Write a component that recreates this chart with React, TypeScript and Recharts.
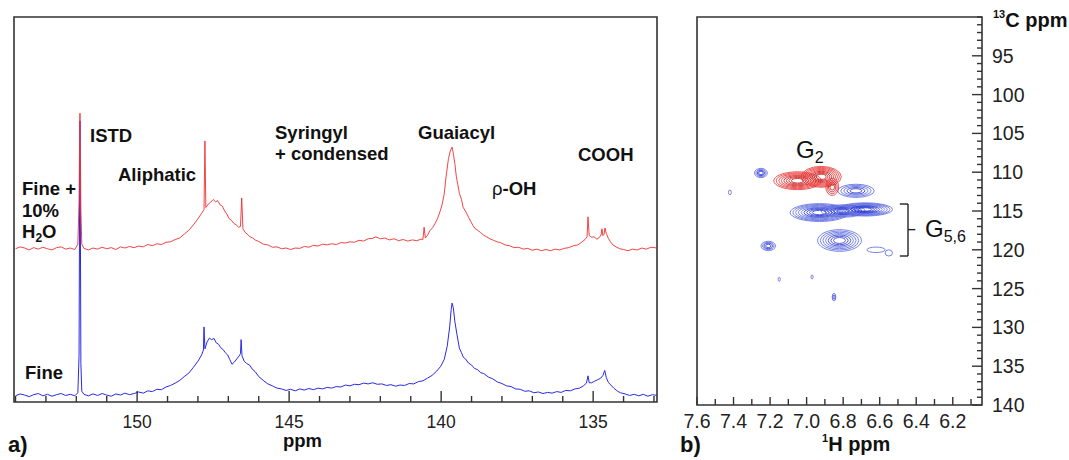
import React from 'react'
import {
  LineChart, Line, ScatterChart, Scatter, XAxis, YAxis, ReferenceArea, ReferenceLine,
} from 'recharts'

const FONT = '"Liberation Sans", Arial, Helvetica, sans-serif'

// a) 31P spectra, [ppm, intensity] (blue = Fine, red = Fine + 10% H2O)
const fineSpectrum: [number, number][] = [
  [154.0, 1.6], [153.85, 2.1], [153.7, 1.8], [153.55, 1.4], [153.4, 1.9], [153.25, 2.2], [153.1, 1.6],
  [152.95, 2.0], [152.8, 1.5], [152.65, 1.9], [152.5, 2.2], [152.35, 1.7], [152.2, 2.0], [152.05, 1.6],
  [151.95, 2.4], [151.91, 12], [151.89, 58], [151.88, 73], [151.87, 55], [151.85, 10], [151.82, 2.8],
  [151.75, 2.0], [151.6, 1.6], [151.45, 2.1], [151.3, 1.7], [151.15, 2.2], [151.0, 1.8], [150.85, 1.5],
  [150.7, 2.1], [150.55, 1.8], [150.4, 2.3], [150.25, 1.9], [150.1, 2.2], [149.95, 2.6], [149.8, 2.3],
  [149.65, 2.9], [149.5, 2.7], [149.35, 3.3], [149.2, 3.2], [149.05, 3.9], [148.9, 4.3], [148.75, 4.9],
  [148.6, 5.6], [148.45, 6.6], [148.3, 7.5], [148.15, 9.0], [148.0, 10.6], [147.88, 12.2], [147.82, 13.5],
  [147.8, 19.5], [147.77, 13.8], [147.7, 15.6], [147.62, 16.6], [147.55, 16.2], [147.47, 16.5], [147.4, 15.4],
  [147.32, 15.0], [147.25, 14.1], [147.17, 13.6], [147.1, 12.8], [147.02, 12.2], [146.95, 11.0],
  [146.88, 9.8], [146.8, 10.4], [146.72, 11.2], [146.64, 12.0], [146.6, 12.6], [146.58, 16.2], [146.55, 12.0],
  [146.48, 10.6], [146.4, 10.0], [146.3, 9.6], [146.22, 8.6], [146.12, 7.9], [146.0, 6.6], [145.85, 5.6],
  [145.7, 4.7], [145.55, 4.2], [145.4, 3.6], [145.25, 3.4], [145.1, 3.0], [144.95, 3.3], [144.8, 2.9],
  [144.65, 3.4], [144.5, 3.1], [144.35, 3.5], [144.2, 3.2], [144.05, 3.6], [143.9, 3.4], [143.75, 3.8],
  [143.6, 3.6], [143.45, 4.0], [143.3, 3.9], [143.15, 4.4], [143.0, 4.2], [142.85, 4.6], [142.7, 4.5],
  [142.55, 4.9], [142.4, 4.7], [142.25, 5.0], [142.1, 4.6], [141.95, 4.7], [141.8, 4.3], [141.65, 4.5],
  [141.5, 4.1], [141.35, 4.4], [141.2, 4.3], [141.05, 4.8], [140.9, 4.7], [140.75, 5.3], [140.6, 5.5],
  [140.45, 6.2], [140.3, 6.9], [140.15, 8.0], [140.02, 9.2], [139.9, 11.0], [139.8, 14.5], [139.72, 19.5],
  [139.67, 24.0], [139.64, 25.7], [139.6, 24.5], [139.55, 21.0], [139.48, 17.5], [139.4, 14.0],
  [139.33, 12.8], [139.27, 11.6], [139.2, 11.2], [139.1, 10.1], [139.0, 9.6], [138.9, 8.7], [138.8, 8.4],
  [138.7, 7.6], [138.6, 7.4], [138.45, 6.5], [138.3, 6.0], [138.15, 5.2], [138.0, 4.8], [137.85, 4.2],
  [137.7, 4.0], [137.55, 3.4], [137.4, 3.3], [137.25, 2.8], [137.1, 2.9], [136.95, 2.4], [136.8, 2.6],
  [136.65, 2.2], [136.5, 2.5], [136.35, 2.3], [136.2, 2.7], [136.05, 2.5], [135.9, 3.0], [135.75, 2.9],
  [135.6, 3.4], [135.45, 3.6], [135.32, 4.2], [135.22, 4.9], [135.17, 6.8], [135.13, 5.0], [135.05, 5.0],
  [134.95, 5.4], [134.85, 5.8], [134.75, 6.2], [134.68, 6.9], [134.62, 8.2], [134.57, 6.4], [134.5, 5.1],
  [134.42, 4.4], [134.32, 3.6], [134.2, 2.8], [134.1, 2.4], [133.95, 2.1], [133.8, 1.7], [133.65, 2.0],
  [133.5, 1.6], [133.35, 2.0], [133.2, 1.5], [133.05, 1.9], [132.9, 1.7],
]

const fineWaterSpectrum: [number, number][] = [
  [154.0, 39.8], [153.85, 40.3], [153.7, 40.0], [153.55, 39.5], [153.4, 40.1], [153.25, 39.7], [153.1, 40.2],
  [152.95, 39.8], [152.8, 39.5], [152.65, 40.1], [152.5, 40.3], [152.35, 39.7], [152.2, 40.0], [152.05, 39.6],
  [151.95, 41.0], [151.91, 52], [151.89, 70], [151.88, 75], [151.87, 68], [151.85, 50], [151.82, 41.0],
  [151.75, 39.9], [151.6, 39.5], [151.45, 40.0], [151.3, 39.7], [151.15, 40.2], [151.0, 39.8], [150.85, 40.1],
  [150.7, 39.6], [150.55, 40.3], [150.4, 40.0], [150.25, 40.4], [150.1, 40.1], [149.95, 40.5], [149.8, 40.3],
  [149.65, 40.9], [149.5, 40.6], [149.35, 41.1], [149.2, 40.9], [149.05, 41.5], [148.9, 41.6], [148.75, 42.2],
  [148.6, 42.6], [148.45, 43.6], [148.3, 44.6], [148.15, 46.0], [148.0, 47.6], [147.88, 49.0], [147.8, 50.0],
  [147.77, 67.8], [147.74, 50.5], [147.66, 51.4], [147.58, 51.9], [147.5, 52.6], [147.42, 52.0], [147.35, 52.3],
  [147.27, 51.2], [147.2, 50.9], [147.12, 49.6], [147.05, 48.8], [146.97, 47.6], [146.9, 47.2], [146.82, 46.4],
  [146.74, 46.0], [146.66, 45.4], [146.6, 45.6], [146.56, 53.0], [146.52, 45.0], [146.45, 44.1], [146.38, 43.6],
  [146.3, 43.0], [146.2, 42.6], [146.1, 42.0], [146.0, 41.7], [145.85, 41.0], [145.7, 40.8], [145.55, 40.2],
  [145.4, 40.3], [145.25, 39.8], [145.1, 40.0], [144.95, 39.6], [144.8, 40.0], [144.65, 39.9], [144.5, 40.4],
  [144.35, 40.2], [144.2, 40.7], [144.05, 40.5], [143.9, 41.0], [143.75, 40.8], [143.6, 41.1], [143.45, 40.9],
  [143.3, 41.4], [143.15, 41.3], [143.0, 41.6], [142.85, 41.5], [142.7, 42.0], [142.55, 41.8], [142.4, 42.4],
  [142.25, 42.5], [142.15, 42.9], [142.0, 42.4], [141.85, 42.6], [141.7, 42.1], [141.55, 42.4], [141.4, 41.9],
  [141.25, 42.2], [141.1, 41.8], [140.95, 42.1], [140.8, 41.9], [140.66, 42.3], [140.6, 42.2], [140.56, 45.4],
  [140.52, 42.6], [140.45, 43.3], [140.37, 44.5], [140.28, 45.3], [140.2, 46.4], [140.12, 47.6], [140.04, 49.4],
  [139.97, 51.2], [139.9, 54.0], [139.83, 59.0], [139.76, 63.2], [139.7, 65.2], [139.64, 66.2], [139.6, 64.6],
  [139.55, 62.0], [139.5, 58.5], [139.45, 56.4], [139.4, 54.2], [139.33, 52.6], [139.28, 50.6], [139.2, 49.6],
  [139.1, 48.0], [139.02, 46.8], [138.95, 45.8], [138.88, 45.0], [138.8, 44.6], [138.7, 44.0], [138.6, 43.3],
  [138.5, 42.9], [138.4, 42.4], [138.28, 42.0], [138.16, 41.6], [138.05, 41.4], [137.9, 40.8], [137.75, 40.6],
  [137.6, 40.1], [137.45, 40.2], [137.3, 39.7], [137.15, 39.9], [137.0, 39.4], [136.85, 39.7], [136.7, 39.3],
  [136.55, 39.6], [136.4, 39.3], [136.25, 39.7], [136.1, 39.5], [135.95, 39.9], [135.8, 40.1], [135.65, 40.6],
  [135.5, 40.8], [135.38, 41.5], [135.27, 42.2], [135.2, 42.9], [135.17, 48.1], [135.13, 43.2], [135.05, 42.8],
  [134.97, 42.9], [134.88, 42.3], [134.8, 42.7], [134.74, 43.4], [134.71, 45.0], [134.68, 43.2], [134.64, 43.6],
  [134.61, 45.2], [134.57, 43.8], [134.5, 42.5], [134.43, 41.6], [134.35, 40.8], [134.25, 40.3], [134.12, 39.8],
  [134.0, 39.6], [133.85, 39.3], [133.7, 39.7], [133.55, 39.5], [133.4, 40.0], [133.25, 39.7], [133.1, 40.2],
  [132.9, 40.0],
]

const ppmTicks = [154, 153, 152, 151, 150, 149, 148, 147, 146, 145, 144, 143, 142, 141, 140, 139, 138, 137, 136, 135, 134, 133]
const ppmLabels = [150, 145, 140, 135]

// b) HSQC axes
const hTicks = [7.6, 7.5, 7.4, 7.3, 7.2, 7.1, 7.0, 6.9, 6.8, 6.7, 6.6, 6.5, 6.4, 6.3, 6.2, 6.1]
const hLabels = ['7.6', '7.4', '7.2', '7.0', '6.8', '6.6', '6.4', '6.2']
const cTicks = [
  90, 91, 92, 93, 94, 95, 96, 97, 98, 99, 100, 101, 102, 103, 104, 105, 106, 107, 108, 109, 110,
  111, 112, 113, 114, 115, 116, 117, 118, 119, 120, 121, 122, 123, 124, 125, 126, 127, 128, 129, 130,
  131, 132, 133, 134, 135, 136, 137, 138, 139, 140,
]
const cLabels = [95, 100, 105, 110, 115, 120, 125, 130, 135, 140]

// contour blobs: centre (1H, 13C), half widths (ppm), number of levels
const redContours = [
  { h: 7.05, c: 111.1, rx: 0.13, ry: 1.15, rings: 8 },
  { h: 6.92, c: 110.6, rx: 0.11, ry: 1.35, rings: 9 },
  { h: 6.86, c: 111.9, rx: 0.035, ry: 1.1, rings: 4 },
]
const blueContours = [
  { h: 7.25, c: 110.1, rx: 0.035, ry: 0.6, rings: 4 },
  { h: 7.42, c: 112.6, rx: 0.008, ry: 0.3, rings: 1 },
  { h: 6.73, c: 112.4, rx: 0.1, ry: 0.85, rings: 5 },
  { h: 6.93, c: 115.2, rx: 0.16, ry: 1.15, rings: 9 },
  { h: 6.80, c: 115.0, rx: 0.12, ry: 0.8, rings: 6 },
  { h: 6.68, c: 114.8, rx: 0.15, ry: 0.85, rings: 9 },
  { h: 6.82, c: 118.8, rx: 0.12, ry: 1.4, rings: 7 },
  { h: 6.62, c: 120.0, rx: 0.05, ry: 0.35, rings: 1 },
  { h: 6.55, c: 120.4, rx: 0.02, ry: 0.4, rings: 1 },
  { h: 7.21, c: 119.5, rx: 0.04, ry: 0.6, rings: 4 },
  { h: 7.15, c: 123.8, rx: 0.006, ry: 0.25, rings: 1 },
  { h: 6.97, c: 123.5, rx: 0.006, ry: 0.25, rings: 1 },
  { h: 6.85, c: 126.1, rx: 0.01, ry: 0.5, rings: 2 },
]

// G5,6 bracket
const bracket = [
  [{ x: 6.49, y: 114.1 }, { x: 6.445, y: 114.1 }],
  [{ x: 6.445, y: 114.1 }, { x: 6.445, y: 120.8 }],
  [{ x: 6.49, y: 120.8 }, { x: 6.445, y: 120.8 }],
  [{ x: 6.445, y: 117.4 }, { x: 6.405, y: 117.4 }],
]

const H_DOMAIN: [number, number] = [6.04, 7.6]
const C_DOMAIN: [number, number] = [90, 140]
const PX_H = 285 / (H_DOMAIN[1] - H_DOMAIN[0])
const PX_C = 388 / (C_DOMAIN[1] - C_DOMAIN[0])

const fineData = fineSpectrum.map(([ppm, v]) => ({ ppm, v }))
const waterData = fineWaterSpectrum.map(([ppm, v]) => ({ ppm, v }))

function PpmTick({ x, y, payload }: any) {
  const major = ppmLabels.includes(payload.value)
  return (
    <g>
      <line x1={x} x2={x} y1={y} y2={y - (major ? 11 : 6)} stroke="#333" strokeWidth={1.4} />
      {major && (
        <text x={x} y={y + 26} textAnchor="middle" fontSize={17.5} fill="#222" fontFamily={FONT}>
          {payload.value}
        </text>
      )}
    </g>
  )
}

function HTick({ x, y, payload }: any) {
  const label = payload.value.toFixed(1)
  const major = hLabels.includes(label)
  return (
    <g>
      <line x1={x} x2={x} y1={y} y2={y - (major ? 8 : 6)} stroke="#333" strokeWidth={1.4} />
      {major && (
        <text x={x} y={y + 23} textAnchor="middle" fontSize={19.5} fill="#222" fontFamily={FONT}>
          {label}
        </text>
      )}
    </g>
  )
}

function CTick({ x, y, payload }: any) {
  const major = cLabels.includes(payload.value)
  return (
    <g>
      <line x1={x} x2={x - (major ? 10 : 5)} y1={y} y2={y} stroke="#333" strokeWidth={1.4} />
      {major && (
        <text x={x + 10} y={y + 7} textAnchor="start" fontSize={19.5} fill="#222" fontFamily={FONT}>
          {payload.value}
        </text>
      )}
    </g>
  )
}

function makeContour(dark: string, light: string) {
  return (props: any) => {
    const { cx, cy, payload } = props
    const n = payload.rings
    const rings = []
    for (let i = 0; i < n; i++) {
      const k = 1 - (i / Math.max(n, 1)) * 0.85
      rings.push(
        <ellipse
          key={i}
          cx={cx}
          cy={cy}
          rx={Math.max(payload.rx * PX_H * k, 0.8)}
          ry={Math.max(payload.ry * PX_C * k, 0.8)}
          fill="none"
          stroke={i < n / 2 ? light : dark}
          strokeWidth={0.8}
        />
      )
    }
    return <g>{rings}</g>
  }
}

const RedContour = makeContour('#cc1010', '#e83030')
const BlueContour = makeContour('#1e2fd0', '#5866dd')

export default function App() {
  return (
    <div style={{ position: 'absolute', left: 0, top: 0, width: 1069, height: 460, background: '#fff' }}>
      <div style={{ position: 'absolute', left: 0, top: 0 }}>
        <LineChart width={680} height={460} margin={{ top: 17, left: 14, right: 23, bottom: 28 }}>
          <XAxis
            type="number" dataKey="ppm" domain={[132.9, 154.05]} reversed allowDataOverflow
            ticks={ppmTicks} interval={0} tick={<PpmTick />} tickLine={false} axisLine={false}
            tickSize={0} tickMargin={0} height={30}
          />
          <YAxis hide type="number" domain={[0, 100]} allowDataOverflow />
          <ReferenceArea x1={154.05} x2={132.9} y1={0} y2={100} fill="none" stroke="#333" strokeWidth={1.6} ifOverflow="visible" />
          <Line data={fineData} dataKey="v" type="linear" stroke="#2a2ae6" strokeWidth={1} dot={false} isAnimationActive={false} />
          <Line data={waterData} dataKey="v" type="linear" stroke="#f03030" strokeWidth={1} strokeOpacity={0.9} dot={false} isAnimationActive={false} />
        </LineChart>
      </div>

      <div style={{ position: 'absolute', left: 680, top: 0 }}>
        <ScatterChart width={389} height={460} margin={{ top: 17, left: 17, right: 27, bottom: 25 }}>
          <XAxis
            type="number" dataKey="h" domain={H_DOMAIN} reversed allowDataOverflow
            ticks={hTicks} interval={0} tick={<HTick />} tickLine={false} axisLine={false}
            tickSize={0} tickMargin={0} height={30}
          />
          <YAxis
            type="number" dataKey="c" domain={C_DOMAIN} reversed allowDataOverflow orientation="right"
            ticks={cTicks} interval={0} tick={<CTick />} tickLine={false} axisLine={false}
            tickSize={0} tickMargin={0} width={60}
          />
          <ReferenceArea x1={7.6} x2={6.04} y1={90} y2={140} fill="none" stroke="#333" strokeWidth={1.6} ifOverflow="visible" />
          {bracket.map((seg, i) => (
            <ReferenceLine key={i} segment={seg} stroke="#222" strokeWidth={1.4} ifOverflow="visible" />
          ))}
          <Scatter data={blueContours} shape={BlueContour} isAnimationActive={false} />
          <Scatter data={redContours} shape={RedContour} isAnimationActive={false} />
        </ScatterChart>
      </div>

      <svg width={1069} height={460} style={{ position: 'absolute', left: 0, top: 0, pointerEvents: 'none' }} fontFamily={FONT}>
        <g fontWeight="bold" fontSize={18.5} fill="#111">
          <text x={90} y={142}>ISTD</text>
          <text x={118} y={181}>Aliphatic</text>
          <text x={275} y={139}>Syringyl</text>
          <text x={275} y={160}>+ condensed</text>
          <text x={418} y={139}>Guaiacyl</text>
          <text x={492} y={195}><tspan fontWeight="normal">ρ</tspan>-OH</text>
          <text x={578} y={161}>COOH</text>
          <text x={22} y={195}>Fine +</text>
          <text x={22} y={217}>10%</text>
          <text x={22} y={238}>H<tspan fontSize={12} dy={4}>2</tspan><tspan dy={-4}>O</tspan></text>
          <text x={25} y={379}>Fine</text>
          <text x={283} y={447}>ppm</text>
          <text x={8} y={452} fontSize={22}>a)</text>
          <text x={680} y={452} fontSize={22}>b)</text>
          <text x={993} y={27} fontSize={20}><tspan fontSize={11} dy={-9}>13</tspan><tspan dy={9}>C ppm</tspan></text>
          <text x={822} y={451} fontSize={20}><tspan fontSize={11} dy={-9}>1</tspan><tspan dy={9}>H ppm</tspan></text>
        </g>
        <g fontSize={24} fill="#111">
          <text x={796} y={158}>G<tspan fontSize={16} dy={5}>2</tspan></text>
          <text x={925} y={237}>G<tspan fontSize={16} dy={5}>5,6</tspan></text>
        </g>
      </svg>
    </div>
  )
}
